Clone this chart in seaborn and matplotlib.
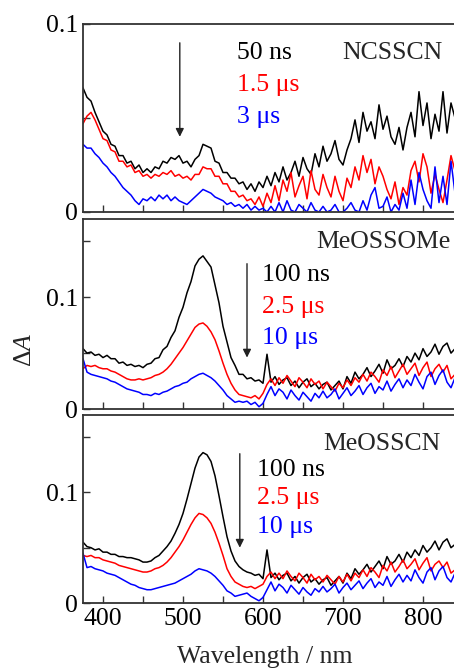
import numpy as np
import pandas as pd
import matplotlib
matplotlib.use("Agg")
import matplotlib.pyplot as plt
from matplotlib.ticker import MultipleLocator, FixedLocator, FixedFormatter
import seaborn as sns

# wavelength grid (nm), 5 nm steps
wavelength = list(range(375, 845, 5))

# --- NCSSCN: 50 ns / 1.5 us / 3 us ---
ncsscn_50ns = [
    0.066, 0.061, 0.059, 0.053, 0.048, 0.043, 0.041, 0.036, 0.035, 0.030,
    0.030, 0.026, 0.027, 0.023, 0.025, 0.021, 0.023, 0.021, 0.024, 0.023,
    0.027, 0.026, 0.029, 0.028, 0.030, 0.026, 0.027, 0.024, 0.028, 0.030,
    0.036, 0.035, 0.034, 0.027, 0.026, 0.021, 0.021, 0.018, 0.018, 0.015,
    0.016, 0.012, 0.015, 0.011, 0.016, 0.013, 0.019, 0.014, 0.021, 0.016,
    0.024, 0.017, 0.021, 0.027, 0.019, 0.029, 0.023, 0.020, 0.031, 0.024,
    0.035, 0.027, 0.031, 0.038, 0.028, 0.025, 0.033, 0.039, 0.049, 0.037,
    0.053, 0.043, 0.048, 0.039, 0.057, 0.044, 0.051, 0.040, 0.036, 0.045,
    0.033, 0.045, 0.053, 0.040, 0.064, 0.046, 0.058, 0.039, 0.052, 0.043,
    0.064, 0.042, 0.058, 0.050]
ncsscn_1_5us = [
    0.047, 0.051, 0.053, 0.049, 0.044, 0.039, 0.038, 0.033, 0.032, 0.027,
    0.027, 0.024, 0.025, 0.021, 0.022, 0.019, 0.020, 0.018, 0.020, 0.019,
    0.021, 0.020, 0.022, 0.019, 0.020, 0.018, 0.019, 0.017, 0.020, 0.020,
    0.024, 0.023, 0.023, 0.019, 0.019, 0.015, 0.015, 0.011, 0.011, 0.008,
    0.009, 0.006, 0.007, 0.004, 0.008, 0.003, 0.010, 0.005, 0.014, 0.006,
    0.017, 0.011, 0.021, 0.008, 0.014, 0.019, 0.007, 0.022, 0.012, 0.009,
    0.020, 0.013, 0.008, 0.019, 0.011, 0.006, 0.018, 0.013, 0.024, 0.017,
    0.030, 0.021, 0.028, 0.015, 0.024, 0.019, 0.012, 0.007, 0.016, 0.004,
    0.013, 0.009, 0.022, 0.027, 0.016, 0.031, 0.024, 0.010, 0.020, 0.012,
    0.005, 0.017, 0.030, 0.022]
ncsscn_3us = [
    0.036, 0.034, 0.034, 0.031, 0.029, 0.026, 0.024, 0.021, 0.019, 0.016,
    0.013, 0.011, 0.009, 0.006, 0.004, 0.007, 0.006, 0.008, 0.006, 0.009,
    0.007, 0.009, 0.006, 0.008, 0.006, 0.005, 0.004, 0.006, 0.008, 0.010,
    0.012, 0.011, 0.010, 0.008, 0.007, 0.006, 0.004, 0.005, 0.003, 0.004,
    0.002, 0.004, 0.001, 0.003, 0.001, 0.002, 0.000, 0.003, 0.000, 0.005,
    0.000, 0.006, 0.001, 0.000, 0.004, 0.002, 0.000, 0.005, 0.001, 0.000,
    0.003, 0.000, 0.001, 0.004, 0.000, 0.000, 0.002, 0.005, 0.001, 0.000,
    0.006, 0.001, 0.009, 0.013, 0.002, 0.003, 0.008, 0.000, 0.004, 0.001,
    0.010, 0.002, 0.017, 0.004, 0.021, 0.012, 0.006, 0.002, 0.024, 0.005,
    0.019, 0.004, 0.027, 0.010]

# --- MeOSSOMe: 100 ns / 2.5 us / 10 us ---
meossome_100ns = [
    0.054, 0.050, 0.051, 0.048, 0.049, 0.046, 0.048, 0.045, 0.045, 0.041,
    0.042, 0.039, 0.040, 0.038, 0.039, 0.037, 0.040, 0.041, 0.045, 0.046,
    0.053, 0.056, 0.064, 0.070, 0.082, 0.091, 0.104, 0.114, 0.128, 0.134,
    0.137, 0.132, 0.127, 0.111, 0.095, 0.074, 0.060, 0.046, 0.039, 0.031,
    0.031, 0.027, 0.028, 0.025, 0.026, 0.023, 0.049, 0.024, 0.029, 0.022,
    0.026, 0.028, 0.021, 0.025, 0.019, 0.024, 0.027, 0.020, 0.023, 0.018,
    0.022, 0.024, 0.017, 0.021, 0.025, 0.018, 0.029, 0.023, 0.033, 0.027,
    0.031, 0.037, 0.029, 0.034, 0.040, 0.032, 0.044, 0.036, 0.039, 0.045,
    0.038, 0.047, 0.042, 0.050, 0.044, 0.054, 0.047, 0.051, 0.058, 0.049,
    0.056, 0.059, 0.050, 0.054]
meossome_2_5us = [
    0.036, 0.039, 0.038, 0.039, 0.037, 0.036, 0.036, 0.034, 0.033, 0.031,
    0.029, 0.027, 0.026, 0.026, 0.027, 0.026, 0.027, 0.028, 0.030, 0.031,
    0.033, 0.036, 0.040, 0.045, 0.050, 0.055, 0.061, 0.067, 0.073, 0.076,
    0.077, 0.074, 0.069, 0.062, 0.052, 0.041, 0.031, 0.023, 0.017, 0.013,
    0.012, 0.011, 0.010, 0.012, 0.009, 0.014, 0.022, 0.027, 0.021, 0.028,
    0.023, 0.030, 0.025, 0.020, 0.028, 0.024, 0.019, 0.027, 0.022, 0.025,
    0.018, 0.024, 0.020, 0.016, 0.023, 0.019, 0.026, 0.021, 0.028, 0.024,
    0.031, 0.025, 0.033, 0.029, 0.024, 0.035, 0.030, 0.038, 0.028, 0.034,
    0.040, 0.031, 0.036, 0.041, 0.030, 0.037, 0.042, 0.029, 0.036, 0.040,
    0.033, 0.039, 0.027, 0.031]
meossome_10us = [
    0.045, 0.033, 0.031, 0.030, 0.029, 0.028, 0.027, 0.025, 0.024, 0.022,
    0.020, 0.018, 0.017, 0.016, 0.015, 0.013, 0.013, 0.012, 0.014, 0.013,
    0.015, 0.016, 0.018, 0.020, 0.021, 0.023, 0.024, 0.027, 0.029, 0.031,
    0.032, 0.030, 0.028, 0.025, 0.021, 0.017, 0.012, 0.009, 0.006, 0.007,
    0.006, 0.007, 0.004, 0.006, 0.002, 0.005, 0.013, 0.020, 0.012, 0.018,
    0.015, 0.009, 0.017, 0.012, 0.008, 0.015, 0.011, 0.007, 0.014, 0.010,
    0.016, 0.010, 0.013, 0.018, 0.009, 0.014, 0.019, 0.012, 0.016, 0.021,
    0.013, 0.019, 0.023, 0.014, 0.020, 0.017, 0.025, 0.016, 0.022, 0.027,
    0.019, 0.026, 0.021, 0.031, 0.024, 0.018, 0.029, 0.033, 0.022, 0.030,
    0.035, 0.024, 0.019, 0.028]

# --- MeOSSCN: 100 ns / 2.5 us / 10 us ---
meosscn_100ns = [
    0.055, 0.051, 0.050, 0.048, 0.049, 0.046, 0.046, 0.044, 0.044, 0.042,
    0.042, 0.041, 0.041, 0.040, 0.039, 0.037, 0.037, 0.038, 0.041, 0.043,
    0.047, 0.051, 0.056, 0.063, 0.071, 0.081, 0.094, 0.108, 0.122, 0.132,
    0.136, 0.134, 0.128, 0.115, 0.097, 0.078, 0.060, 0.047, 0.038, 0.033,
    0.030, 0.028, 0.027, 0.025, 0.026, 0.022, 0.048, 0.023, 0.027, 0.021,
    0.025, 0.027, 0.020, 0.024, 0.018, 0.023, 0.026, 0.019, 0.022, 0.017,
    0.021, 0.023, 0.016, 0.020, 0.024, 0.018, 0.027, 0.022, 0.031, 0.026,
    0.030, 0.035, 0.028, 0.033, 0.038, 0.031, 0.042, 0.035, 0.038, 0.044,
    0.037, 0.046, 0.041, 0.048, 0.043, 0.052, 0.046, 0.050, 0.056, 0.048,
    0.055, 0.058, 0.050, 0.053]
meosscn_2_5us = [
    0.043, 0.042, 0.043, 0.041, 0.041, 0.039, 0.038, 0.037, 0.036, 0.034,
    0.033, 0.032, 0.031, 0.030, 0.029, 0.028, 0.028, 0.029, 0.031, 0.032,
    0.034, 0.037, 0.041, 0.046, 0.051, 0.057, 0.064, 0.071, 0.077, 0.081,
    0.080, 0.077, 0.072, 0.064, 0.054, 0.043, 0.031, 0.024, 0.019, 0.017,
    0.015, 0.014, 0.015, 0.013, 0.015, 0.017, 0.024, 0.028, 0.022, 0.027,
    0.022, 0.029, 0.024, 0.020, 0.027, 0.023, 0.018, 0.026, 0.021, 0.024,
    0.019, 0.025, 0.021, 0.017, 0.024, 0.019, 0.026, 0.020, 0.027, 0.023,
    0.030, 0.024, 0.032, 0.028, 0.023, 0.034, 0.029, 0.037, 0.028, 0.033,
    0.039, 0.031, 0.035, 0.040, 0.030, 0.036, 0.041, 0.029, 0.035, 0.038,
    0.032, 0.037, 0.027, 0.030]
meosscn_10us = [
    0.045, 0.032, 0.033, 0.031, 0.030, 0.029, 0.027, 0.026, 0.025, 0.023,
    0.021, 0.019, 0.017, 0.016, 0.014, 0.013, 0.012, 0.012, 0.013, 0.014,
    0.015, 0.016, 0.017, 0.018, 0.020, 0.022, 0.024, 0.026, 0.029, 0.031,
    0.030, 0.029, 0.027, 0.024, 0.020, 0.016, 0.011, 0.009, 0.006, 0.007,
    0.008, 0.009, 0.006, 0.004, 0.002, 0.005, 0.012, 0.019, 0.011, 0.017,
    0.014, 0.009, 0.016, 0.012, 0.008, 0.014, 0.010, 0.007, 0.013, 0.010,
    0.015, 0.010, 0.013, 0.017, 0.009, 0.014, 0.018, 0.012, 0.016, 0.020,
    0.013, 0.018, 0.022, 0.014, 0.019, 0.016, 0.024, 0.015, 0.021, 0.026,
    0.019, 0.025, 0.020, 0.030, 0.023, 0.018, 0.028, 0.032, 0.021, 0.029,
    0.033, 0.023, 0.019, 0.027]

colors = ["black", "#ff0000", "#0000ff"]

panels = [
    dict(name="NCSSCN", labels=["50 ns", "1.5 \u03bcs", "3 \u03bcs"],
         series=[ncsscn_50ns, ncsscn_1_5us, ncsscn_3us], ymax=0.1,
         arrow=(496, 0.090, 0.040), lab_x=567, lab_y=[0.0846, 0.0676, 0.0505],
         name_xy=(699, 0.0846)),
    dict(name="MeOSSOMe", labels=["100 ns", "2.5 \u03bcs", "10 \u03bcs"],
         series=[meossome_100ns, meossome_2_5us, meossome_10us], ymax=0.17,
         arrow=(580, 0.130, 0.046), lab_x=599, lab_y=[0.1196, 0.091, 0.0634],
         name_xy=(667, 0.149)),
    dict(name="MeOSSCN", labels=["100 ns", "2.5 \u03bcs", "10 \u03bcs"],
         series=[meosscn_100ns, meosscn_2_5us, meosscn_10us], ymax=0.17,
         arrow=(571, 0.135, 0.050), lab_x=592, lab_y=[0.120, 0.0946, 0.0685],
         name_xy=(675, 0.144)),
]

sns.set_style("ticks")
plt.rcParams["font.family"] = ["Liberation Serif", "DejaVu Serif"]
plt.rcParams["mathtext.fontset"] = "custom"
plt.rcParams["mathtext.rm"] = "Liberation Serif"
plt.rcParams["mathtext.it"] = "Liberation Serif:italic"
fs = 18.5

W, H = 454, 671
fig = plt.figure(figsize=(W / 100, H / 100), dpi=100)
# axes boxes in pixels: (top, bottom); left spine at x=83, 0.8 px per nm
boxes = [(24, 212), (219, 409), (415, 603)]
x_lo, x_hi = 375, 850
ax_w = (x_hi - x_lo) * 0.8 / W

for i, (p, (top, bot)) in enumerate(zip(panels, boxes)):
    ax = fig.add_axes([83 / W, (H - bot) / H, ax_w, (bot - top) / H])
    df = pd.DataFrame({"wavelength": wavelength})
    for lab, vals, c in zip(p["labels"], p["series"], colors):
        df["A"] = vals
        sns.lineplot(data=df, x="wavelength", y="A", color=c, lw=1.1, ax=ax)
    ax.set_xlim(x_lo, x_hi)
    ax.set_ylim(0, p["ymax"])
    ax.set_xlabel("")
    ax.set_ylabel("")

    ax.xaxis.set_major_locator(MultipleLocator(100))
    ax.xaxis.set_minor_locator(MultipleLocator(50))
    ax.yaxis.set_major_locator(FixedLocator([0, 0.1]))
    ax.yaxis.set_major_formatter(FixedFormatter(["0", "0.1"]))
    ax.yaxis.set_minor_locator(MultipleLocator(0.05))
    ax.tick_params(which="both", direction="in", length=5, width=1.0,
                   colors="#333333", labelcolor="black", labelsize=fs,
                   top=False, right=False)
    if i < 2:
        ax.tick_params(axis="x", labelbottom=False)
    for s in ax.spines.values():
        s.set_linewidth(1.3)
        s.set_color("#333333")

    ax.text(p["name_xy"][0], p["name_xy"][1], p["name"], fontsize=fs,
            va="center", ha="left")
    for lab, c, yy in zip(p["labels"], colors, p["lab_y"]):
        ax.text(p["lab_x"], yy, lab, color=c, fontsize=fs, va="center", ha="left")
    ax_x, y0, y1 = p["arrow"]
    ax.annotate("", xy=(ax_x, y1), xytext=(ax_x, y0),
                arrowprops=dict(arrowstyle="-|>", color="#222222", lw=1.0,
                                mutation_scale=12, shrinkA=0, shrinkB=0))

fig.text(25 / W, 1 - 350 / H, r"$\Delta A$", fontsize=fs, rotation=90,
         ha="center", va="center")
fig.text(265 / W, 1 - 657 / H, "Wavelength / nm", fontsize=fs,
         ha="center", va="center")

fig.savefig("out.png", dpi=100)
